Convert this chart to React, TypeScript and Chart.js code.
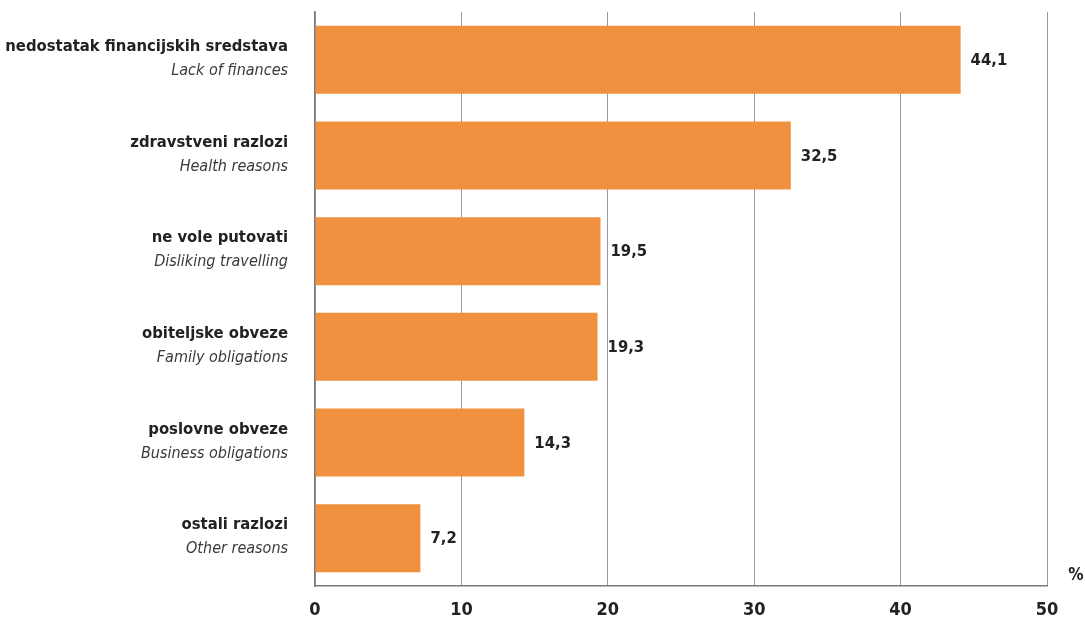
import React, { useEffect, useRef } from "react";
import { Chart, registerables } from "chart.js";

Chart.register(...registerables);

const categoriesHr = [
  "nedostatak financijskih sredstava",
  "zdravstveni razlozi",
  "ne vole putovati",
  "obiteljske obveze",
  "poslovne obveze",
  "ostali razlozi",
];
const categoriesEn = [
  "Lack of finances",
  "Health reasons",
  "Disliking travelling",
  "Family obligations",
  "Business obligations",
  "Other reasons",
];
const values = [44.1, 32.5, 19.5, 19.3, 14.3, 7.2];
const xTicks = [0, 10, 20, 30, 40, 50];

const FONT = "'DejaVu Sans Condensed', 'Liberation Sans', sans-serif";

const labelsPlugin = {
  id: "customLabels",
  afterDatasetsDraw(chart: any) {
    const ctx = chart.ctx;
    const y = chart.scales.y;
    const x = chart.scales.x;
    const meta = chart.getDatasetMeta(0);
    ctx.save();
    ctx.fillStyle = "#222";
    categoriesHr.forEach((c, i) => {
      const cy = y.getPixelForValue(i);
      ctx.textAlign = "right";
      ctx.textBaseline = "middle";
      ctx.font = `bold 16.5px ${FONT}`;
      ctx.fillStyle = "#222";
      ctx.fillText(c, 288, cy - 13);
      ctx.font = `italic 16px ${FONT}`;
      ctx.fillStyle = "#3a3a3a";
      ctx.fillText(categoriesEn[i], 288, cy + 11);
      ctx.fillStyle = "#222";
      const bar = meta.data[i];
      ctx.textAlign = "left";
      ctx.font = `bold 16.5px ${FONT}`;
      ctx.fillText(values[i].toFixed(1).replace(".", ","), bar.x + 10, cy + 1);
    });
    ctx.font = `bold 17px ${FONT}`;
    ctx.textAlign = "center";
    ctx.fillText("%", x.right + 29, y.bottom - 10);
    ctx.restore();
  },
};

export default function App() {
  const ref = useRef<HTMLCanvasElement>(null);
  useEffect(() => {
    document.body.style.margin = "0";
    const chart = new Chart(ref.current!, {
      type: "bar",
      data: {
        labels: categoriesHr,
        datasets: [
          {
            data: values,
            backgroundColor: "#F0913F",
            barPercentage: 0.71,
            categoryPercentage: 1,
          },
        ],
      },
      options: {
        indexAxis: "y",
        animation: false,
        responsive: false,
        layout: { padding: { top: 12, right: 38, left: 0, bottom: 0 } },
        plugins: { legend: { display: false }, tooltip: { enabled: false } },
        scales: {
          x: {
            min: 0,
            max: 50,
            afterBuildTicks(scale: any) {
              scale.ticks = xTicks.map((v) => ({ value: v }));
            },
            afterFit(scale: any) {
              scale.height = 35;
            },
            grid: { color: "#9a9a9a", lineWidth: 1, drawTicks: false },
            border: { color: "#7a7a7a", width: 1.5 },
            ticks: {
              color: "#222",
              padding: 14,
              font: { family: FONT, size: 18, weight: "bold" },
            },
          },
          y: {
            afterFit(scale: any) {
              scale.width = 315;
            },
            grid: { display: false },
            border: { color: "#7a7a7a", width: 1.5 },
            ticks: { display: false },
          },
        },
      } as any,
      plugins: [labelsPlugin],
    });
    return () => chart.destroy();
  }, []);
  return <canvas ref={ref} width={1085} height={621} style={{ display: "block" }} />;
}
